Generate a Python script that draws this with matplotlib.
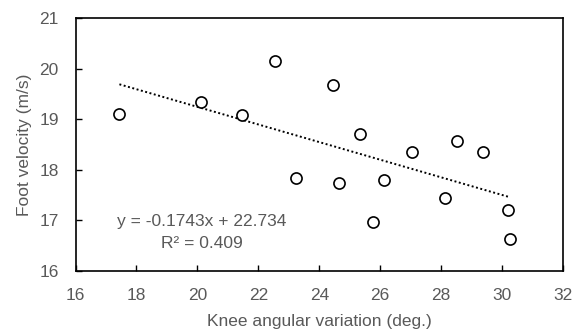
import numpy as np
import matplotlib.pyplot as plt

plt.rcParams['font.family'] = ['Liberation Sans', 'DejaVu Sans']

# data
knee_angle = [17.44, 20.11, 21.48, 22.54, 24.44, 25.34, 27.03, 28.51, 29.37,
              23.25, 24.65, 26.11, 25.76, 28.12, 30.19, 30.25]
foot_vel = [19.10, 19.35, 19.08, 20.15, 19.69, 18.71, 18.35, 18.57, 18.36,
            17.84, 17.74, 17.80, 16.97, 17.45, 17.20, 16.64]
slope = -0.1743
intercept = 22.734
r2 = 0.409

grey = '#595959'

fig = plt.figure(figsize=(5.77, 3.35), dpi=100)
ax = fig.add_axes([0.1309, 0.191, 0.8448, 0.7544])

ax.plot(knee_angle, foot_vel, 'o', mfc='white', mec='black', ms=8, mew=1.2,
        linestyle='none', zorder=3)

xs = np.array([min(knee_angle), max(knee_angle)])
ax.plot(xs, slope * xs + intercept, color='black', linestyle=(0, (1, 1.3)),
        lw=1.4, zorder=2)

ax.text(20.15, 16.98, 'y = -0.1743x + 22.734', ha='center', va='center',
        fontsize=12.5, color=grey)
ax.text(20.15, 16.55, 'R² = %.3f' % r2, ha='center', va='center',
        fontsize=12.5, color=grey)

ax.set_xlim(16, 32)
ax.set_ylim(16, 21)
ax.set_xticks(np.arange(16, 33, 2))
ax.set_yticks(np.arange(16, 22, 1))
ax.tick_params(direction='in', length=4, width=1, color='black',
               labelsize=12.5, labelcolor=grey, pad=12)
for s in ax.spines.values():
    s.set_linewidth(1.2)
    s.set_color('black')

ax.set_xlabel('Knee angular variation (deg.)', fontsize=12.5, color=grey, labelpad=8)
ax.set_ylabel('Foot velocity (m/s)', fontsize=12.5, color=grey, labelpad=5)

fig.savefig('out.png', dpi=100)
